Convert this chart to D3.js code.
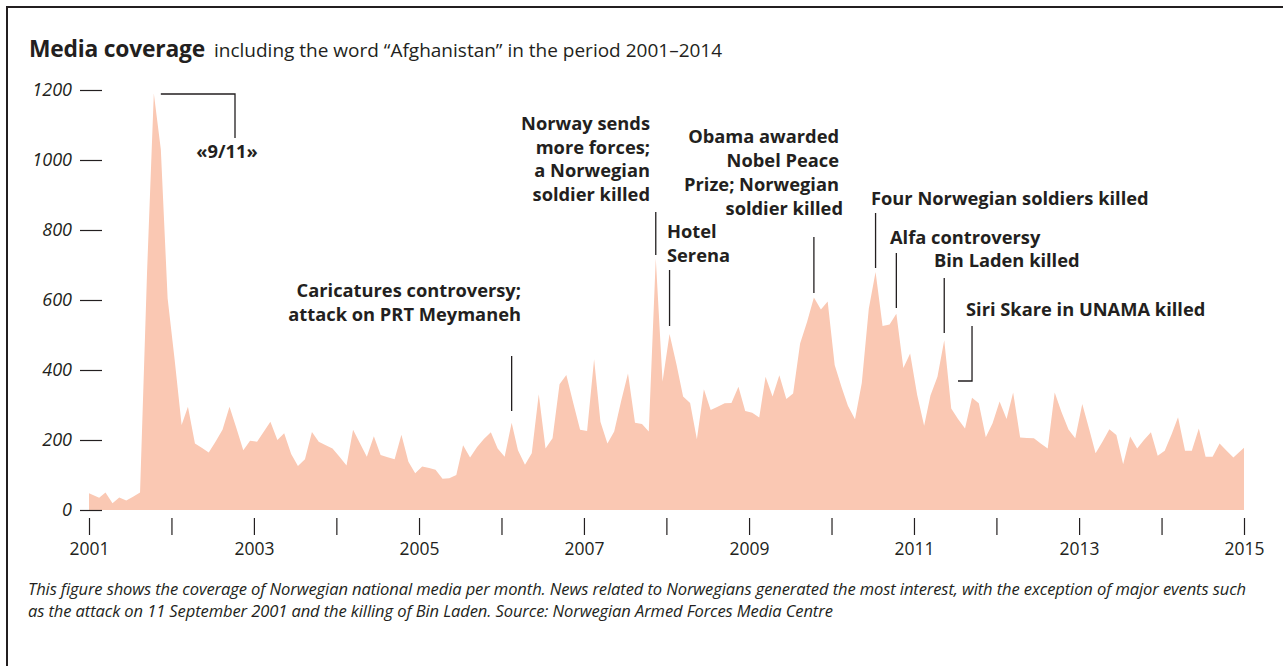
<!DOCTYPE html>
<html><head><meta charset="utf-8">
<script src="https://cdn.jsdelivr.net/npm/d3@7"></script>
<style>
body{margin:0;background:#fff}
svg{display:block}
text{font-family:"Open Sans",sans-serif;fill:#231f20}
</style></head><body>
<svg id="c" width="1283" height="666"></svg>
<script>
// ---- data ----
const titleBold = "Media coverage";
const titleRest = "including the word “Afghanistan” in the period 2001–2014";
const startYear = 2001, endYear = 2015;
const yTicks = [0, 200, 400, 600, 800, 1000, 1200];
const xTickYears = [2001,2002,2003,2004,2005,2006,2007,2008,2009,2010,2011,2012,2013,2014,2015];
const xLabelYears = [2001,2003,2005,2007,2009,2011,2013,2015];
// monthly articles, Jan 2001 – Dec 2014
const coverage = [
  48,35,50,19,36,27,38,50,680,1190,1030,605,          // 2001
  430,243,295,190,178,164,195,229,295,235,171,198,    // 2002
  195,225,252,200,219,160,126,145,223,195,185,176,    // 2003
  152,127,229,190,152,211,157,151,145,215,138,105,    // 2004
  124,120,115,89,91,100,185,150,180,203,222,176,      // 2005
  152,249,171,129,162,331,176,205,359,386,305,229,    // 2006
  226,431,252,190,224,312,390,249,246,224,719,367,    // 2007
  503,415,324,306,202,345,286,295,305,306,352,283,    // 2008
  278,264,381,324,385,317,333,476,538,607,573,596,    // 2009
  414,350,297,259,363,575,680,526,530,561,406,447,    // 2010
  329,241,327,381,485,290,260,233,321,305,208,248,    // 2011
  310,260,336,207,206,205,190,176,336,280,230,205,    // 2012
  303,230,162,196,231,214,131,210,176,200,222,155,    // 2013
  169,217,265,169,169,233,152,152,190,170,150,178     // 2014
];
const footnoteLines = [
  "This figure shows the coverage of Norwegian national media per month. News related to Norwegians generated the most interest, with the exception of major events such",
  "as the attack on 11 September 2001 and the killing of Bin Laden. Source: Norwegian Armed Forces Media Centre"
];
// event annotations: month index into coverage, label lines
const events = [
  {idx: 61, lines: ["Caricatures controversy;", "attack on PRT Meymaneh"]},
  {idx: 82, lines: ["Norway sends", "more forces;", "a Norwegian", "soldier killed"]},
  {idx: 84, lines: ["Hotel", "Serena"]},
  {idx: 105, lines: ["Obama awarded", "Nobel Peace", "Prize; Norwegian", "soldier killed"]},
  {idx: 114, lines: ["Four Norwegian soldiers killed"]},
  {idx: 117, lines: ["Alfa controversy"]},
  {idx: 124, lines: ["Bin Laden killed"]},
  {idx: 128, lines: ["Siri Skare in UNAMA killed"]}
];
const label911 = "«9/11»";

// ---- layout ----
const svg = d3.select("#c");
const ink = "#231f20";
const fill = "#fac8b3";

const months = coverage.map((v, i) => new Date(startYear, i, 15));
const data = months.map((d, i) => ({date: d, v: coverage[i]}));

const x = d3.scaleTime()
  .domain([new Date(startYear, 0, 1), new Date(endYear, 0, 1)])
  .range([89, 1244]);
const y = d3.scaleLinear().domain([0, 1200]).range([510, 90]);

// frame
svg.append("path").attr("d", "M7,666 V7 H1283").attr("fill", "none")
  .attr("stroke", ink).attr("stroke-width", 2);

// title
const t = svg.append("text").attr("x", 29).attr("y", 57);
t.append("tspan").attr("font-weight", 700).attr("font-size", 22.8).attr("letter-spacing", -0.2).text(titleBold);
t.append("tspan").attr("dx", 9).attr("font-size", 19).text(titleRest);

// area
const n = data.length;
const area = d3.area()
  .x((d, i) => i === 0 ? x.range()[0] : (i === n - 1 ? x.range()[1] : x(d.date)))
  .y0(y(0))
  .y1(d => y(d.v));
svg.append("path").datum(data).attr("d", area).attr("fill", fill);

// y axis
const yAx = svg.append("g").attr("transform", "translate(102,0)")
  .call(d3.axisLeft(y).tickValues(yTicks).tickSize(22).tickPadding(8).tickFormat(d3.format("d")));
yAx.select(".domain").remove();
yAx.selectAll(".tick line").attr("stroke", ink).attr("stroke-width", 1.2);
yAx.selectAll(".tick text").attr("font-family", "Open Sans").attr("font-style", "italic")
  .attr("font-size", 18).attr("fill", ink);

// x axis
const xAx = svg.append("g").attr("transform", "translate(0,518)")
  .call(d3.axisBottom(x)
    .tickValues(xTickYears.map(yr => new Date(yr, 0, 1)))
    .tickSize(17).tickPadding(8)
    .tickFormat(d => xLabelYears.includes(d.getFullYear()) ? d.getFullYear() : ""));
xAx.select(".domain").remove();
xAx.selectAll(".tick line").attr("stroke", ink).attr("stroke-width", 1.2);
xAx.selectAll(".tick text").attr("font-family", "Open Sans").attr("font-size", 17.5).attr("fill", ink);

// annotations
const lead = svg.append("g").attr("stroke", ink).attr("stroke-width", 1.3).attr("fill", "none");
const lab = svg.append("g").attr("font-weight", 700).attr("font-size", 18.3);

// 9/11 elbow
const p911 = data[9];
lead.append("path").attr("d", `M${x(p911.date) + 7},${y(p911.v) + 0.5} H235 V138`);
lab.append("text").attr("x", 227).attr("y", 158).attr("text-anchor", "middle").text(label911);

const layout = [
  {anchor: "end", tx: 521, ty: 297, lh: 23.5, l0: 356, l1: 411},
  {anchor: "end", tx: 650, ty: 130, lh: 23.5, l0: 212, l1: 255},
  {anchor: "start", tx: 667, ty: 238, lh: 24, l0: 270, l1: 326},
  {anchor: "end", tx: 839, ty: 143, lh: 24, l0: 237, l1: 293},
  {anchor: "start", tx: 871, ty: 205, lh: 24, l0: 213, l1: 268},
  {anchor: "start", tx: 890, ty: 244, lh: 24, l0: 253, l1: 308},
  {anchor: "start", tx: 934, ty: 267, lh: 24, l0: 278, l1: 333},
  {anchor: "start", tx: 966, ty: 316, lh: 24, l0: 326, l1: 381, elbow: 958}
];
events.forEach((e, k) => {
  const L = layout[k];
  const lx = x(months[e.idx]);
  if (L.elbow) {
    lead.append("path").attr("d", `M${lx},${L.l0} V${L.l1} H${L.elbow}`);
  } else {
    lead.append("line").attr("x1", lx).attr("x2", lx).attr("y1", L.l0).attr("y2", L.l1);
  }
  const tt = lab.append("text").attr("text-anchor", L.anchor);
  e.lines.forEach((s, j) => {
    tt.append("tspan").attr("x", L.tx + (k === 3 && j === 3 ? 4 : 0))
      .attr("y", L.ty + j * L.lh).text(s);
  });
});

// footnote
const fn = svg.append("text").attr("font-style", "italic").attr("font-size", 16.55).attr("letter-spacing", -0.1);
footnoteLines.forEach((s, j) => {
  fn.append("tspan").attr("x", 28).attr("y", 595 + j * 22).text(s);
});
</script>
</body></html>
